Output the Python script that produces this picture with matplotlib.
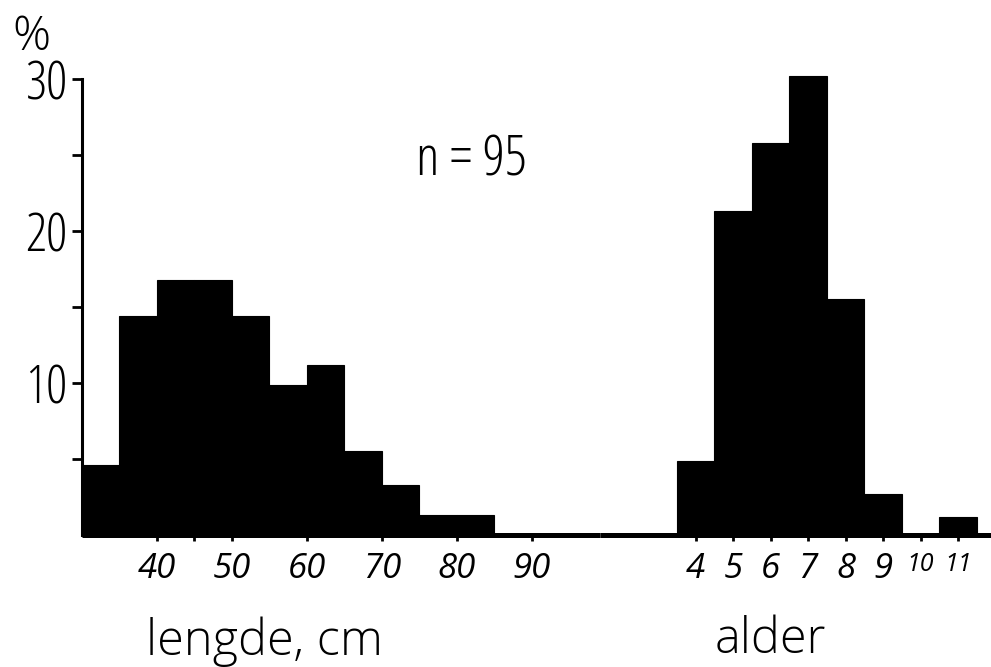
import matplotlib
matplotlib.use("Agg")
import matplotlib.pyplot as plt

# ---- data ----
length_bin_left = [30, 35, 40, 45, 50, 55, 60, 65, 70, 75, 80]          # cm, 5-cm classes
length_pct = [4.6, 14.4, 16.8, 16.8, 14.4, 9.9, 11.2, 5.5, 3.3, 1.3, 1.3]
length_bin_width = 5
length_ticks = [40, 50, 60, 70, 80, 90]
length_ticklabels = ["40", "50", "60", "70", "80", "90"]

ages = [4, 5, 6, 7, 8, 9, 10, 11]
age_pct = [4.9, 21.3, 25.8, 30.2, 15.5, 2.7, 0, 1.2]
age_ticklabels = ["4", "5", "6", "7", "8", "9", "10", "11"]

y_major = [10, 20, 30]
y_minor = [5, 15, 25]

FAM = ["Open Sans", "DejaVu Sans"]
COND = dict(family=FAM, stretch="condensed", weight=300)
TICK_IT = dict(family=FAM, stretch="normal", weight=400, style="italic")
REG = dict(family=FAM, stretch="normal", weight=300)

W, H = 991, 667
fig = plt.figure(figsize=(W / 100, H / 100), dpi=100)

def fx(px):
    return px / W

def fy(py):
    return 1 - py / H

ybot, ytop = 535, 535 - 30.3 * 15.2
axL = fig.add_axes([fx(82), fy(ybot), fx(600) - fx(82), fy(ytop) - fy(ybot)])
axR = fig.add_axes([fx(600), fy(ybot), fx(991) - fx(600), fy(ytop) - fy(ybot)])

for ax in (axL, axR):
    ax.set_ylim(0, 30.3)
    ax.set_facecolor("none")
    for s in ("top", "right"):
        ax.spines[s].set_visible(False)
    ax.spines["bottom"].set_linewidth(3.6)
    ax.spines["bottom"].set_capstyle("butt")

axL.set_xlim(30, 99.07)
axR.set_xlim(1.453, 11.88)
axR.spines["left"].set_visible(False)

axL.spines["left"].set_linewidth(2.2)
axL.spines["left"].set_bounds(0, 30)

axL.bar(length_bin_left, length_pct, width=length_bin_width, align="edge",
        color="black", edgecolor="black", linewidth=0.8)
axR.bar(ages, age_pct, width=1.0, align="center",
        color="black", edgecolor="black", linewidth=0.8)

# y axis ticks
axL.set_yticks(y_major)
axL.set_yticks(y_minor, minor=True)
axL.set_yticklabels([str(v) for v in y_major], fontsize=38, **COND)
axL.tick_params(axis="y", which="both", direction="out", length=7.5, width=2.0, pad=3)
axR.set_yticks([])

# x axis ticks
axL.set_xticks(length_ticks)
axL.set_xticks([45], minor=True)
axL.set_xticklabels(length_ticklabels, fontsize=25, **TICK_IT)
axL.tick_params(axis="x", which="both", direction="out", length=4.5, width=2.0, pad=8)

axR.set_xticks(ages)
axR.set_xticklabels(age_ticklabels, fontsize=25, **TICK_IT)
for lab in axR.get_xticklabels()[-2:]:
    lab.set_fontsize(18)
axR.tick_params(axis="x", which="both", direction="out", length=4.5, width=2.0, pad=8)

# texts
fig.text(fx(31), fy(50), "%", fontsize=34, ha="center", va="baseline", **REG)
fig.text(fx(471), fy(175), "n = 95", fontsize=40, ha="center", va="baseline", **COND)
fig.text(fx(264), fy(655), "lengde, cm", fontsize=35, ha="center", va="baseline", **REG)
fig.text(fx(770), fy(653), "alder", fontsize=35, ha="center", va="baseline", **REG)

fig.savefig("out.png", dpi=100)
